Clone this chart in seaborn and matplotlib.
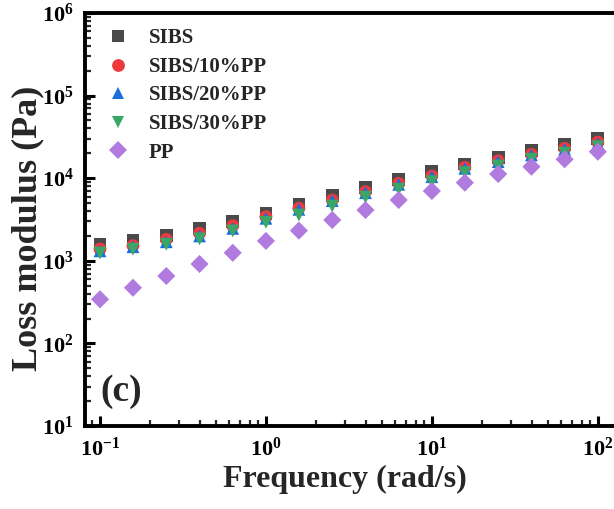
import numpy as np
import pandas as pd
import matplotlib
matplotlib.use("Agg")
import matplotlib.pyplot as plt
import seaborn as sns
from matplotlib.ticker import LogLocator, LogFormatterSciNotation

# Angular frequency sweep (rad/s)
frequency = [0.1, 0.158, 0.251, 0.398, 0.631, 1.0, 1.58, 2.51, 3.98, 6.31,
             10.0, 15.8, 25.1, 39.8, 63.1, 100.0]

# Loss modulus G'' (Pa)
sibs = [1600, 1750, 2040, 2440, 2970, 3760, 4870, 6210, 7760, 9700,
        12000, 14860, 17900, 21540, 25460, 30100]
sibs_10pp = [1390, 1525, 1820, 2150, 2660, 3420, 4330, 5450, 6870, 8670,
             10640, 13560, 16300, 19460, 23000, 27400]
sibs_20pp = [1320, 1480, 1700, 2000, 2470, 3270, 4200, 5350, 6670, 8430,
             10430, 13180, 15850, 19100, 22400, 26440]
sibs_30pp = [1240, 1380, 1585, 1840, 2300, 2920, 3580, 4610, 5870, 7340,
             9070, 11670, 14070, 16940, 20040, 24050]
pp = [342, 472, 655, 915, 1250, 1740, 2320, 3120, 4120, 5450,
      7000, 8830, 11240, 13770, 16940, 20940]

series_names = ["SIBS", "SIBS/10%PP", "SIBS/20%PP", "SIBS/30%PP", "PP"]
series_values = [sibs, sibs_10pp, sibs_20pp, sibs_30pp, pp]

df = pd.concat(
    [pd.DataFrame({"Frequency": frequency, "G2": vals, "Sample": name})
     for name, vals in zip(series_names, series_values)],
    ignore_index=True,
)

palette = {
    "SIBS": "#4a4a4a",
    "SIBS/10%PP": "#ee3a3c",
    "SIBS/20%PP": "#1c6edb",
    "SIBS/30%PP": "#39a768",
    "PP": "#b07adf",
}
markers = {
    "SIBS": "s",
    "SIBS/10%PP": "o",
    "SIBS/20%PP": "^",
    "SIBS/30%PP": "v",
    "PP": "D",
}

sns.set_theme(style="ticks")
plt.rcParams["font.family"] = ["Liberation Serif", "DejaVu Serif"]
plt.rcParams["font.weight"] = "bold"
plt.rcParams["mathtext.fontset"] = "custom"
plt.rcParams["mathtext.rm"] = "Liberation Serif:bold"
plt.rcParams["mathtext.it"] = "Liberation Serif:bold"
plt.rcParams["mathtext.bf"] = "Liberation Serif:bold"

fig = plt.figure(figsize=(6.14, 5.09), dpi=100)
ax = fig.add_axes([85 / 614, 83 / 509, (631 - 85) / 614, (496 - 83) / 509])

sns.scatterplot(
    data=df, x="Frequency", y="G2", hue="Sample", style="Sample",
    palette=palette, markers=markers, hue_order=series_names,
    style_order=series_names, s=85, linewidth=0, ax=ax,
)

ax.set_xscale("log")
ax.set_yscale("log")
ax.set_xlim(10 ** (-1.0904), 10 ** 2.2)
ax.set_ylim(10, 1e6)

ax.xaxis.set_major_locator(LogLocator(base=10, numticks=10))
ax.yaxis.set_major_locator(LogLocator(base=10, numticks=10))
ax.xaxis.set_minor_locator(LogLocator(base=10, subs=np.arange(2, 10), numticks=20))
ax.yaxis.set_minor_locator(LogLocator(base=10, subs=np.arange(2, 10), numticks=20))
ax.xaxis.set_major_formatter(LogFormatterSciNotation())
ax.yaxis.set_major_formatter(LogFormatterSciNotation())

for side in ["left", "bottom", "top", "right"]:
    ax.spines[side].set_linewidth(2.8)
    ax.spines[side].set_color("black")

ax.tick_params(which="major", direction="in", length=7, width=2.2,
               labelsize=16, pad=8, colors="black")
ax.tick_params(which="minor", direction="in", length=4, width=1.6)
ax.tick_params(top=False, right=False, which="both")

ax.set_xlabel("Frequency (rad/s)", fontsize=23, fontweight="bold")
ax.set_ylabel("Loss modulus (Pa)", fontsize=26, fontweight="bold")
ax.xaxis.set_label_coords(0.476, -0.095)
ax.yaxis.set_label_coords(-0.075, 0.479)

ax.text(0.029, 0.041, "(c)", transform=ax.transAxes, fontsize=27,
        fontweight="bold", ha="left", va="bottom")

leg = ax.legend(loc="upper left", bbox_to_anchor=(-0.001, 0.993), frameon=False,
                fontsize=15, handletextpad=0.5, labelspacing=0.41,
                markerscale=1.0, borderaxespad=0.2)
for t in leg.get_texts():
    t.set_fontweight("bold")

fig.savefig("out.png", dpi=100)
